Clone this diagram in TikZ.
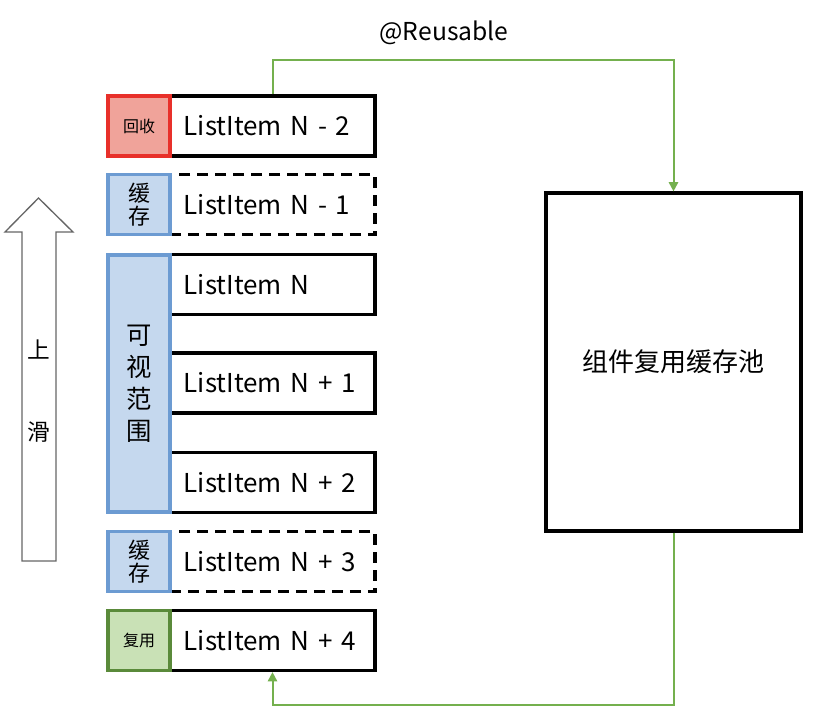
\documentclass[tikz,border=0pt]{standalone}
\usepackage{fontspec}
\setmainfont{Noto Sans CJK SC}
\usetikzlibrary{arrows.meta}
\definecolor{tagred}{HTML}{E8302A}
\definecolor{tagredfill}{HTML}{F0A39A}
\definecolor{tagblue}{HTML}{6C9BD2}
\definecolor{tagbluefill}{HTML}{C5D8EE}
\definecolor{taggreen}{HTML}{5A8A3A}
\definecolor{taggreenfill}{HTML}{C9E1B6}
\definecolor{linkgreen}{HTML}{74B04E}
\begin{document}
\begin{tikzpicture}[x=0.75pt,y=-0.75pt,
  item/.style={draw,line width=2.4pt,minimum width=153.75pt,minimum height=45pt,text width=133pt,inner xsep=10.4pt,align=left,font=\fontsize{19.5}{21}\selectfont},
  cached/.style={item,dash pattern=on 8pt off 5.5pt},
  tag/.style={draw,line width=2.4pt,minimum width=46.5pt,minimum height=45pt,inner sep=0pt,align=center},
  reuse/.style={draw=linkgreen,line width=1.5pt,-{Triangle[width=7pt,length=7pt]}}]
  \useasboundingbox (0,0) rectangle (816,718);
  \node[item] (v1) at (272.5,126) {ListItem N - 2};
  \node[cached] (v2) at (272.5,204.5) {ListItem N - 1};
  \node[item] (v3) at (272.5,284.5) {ListItem N};
  \node[item] (v4) at (272.5,383) {ListItem N + 1};
  \node[item] (v5) at (272.5,482.5) {ListItem N + 2};
  \node[cached] (v6) at (272.5,561.5) {ListItem N + 3};
  \node[item] (v7) at (272.5,640.5) {ListItem N + 4};
  \node[tag,draw=tagred,fill=tagredfill,font=\fontsize{12}{13}\selectfont] (t1) at (139,126) {回收};
  \node[tag,draw=tagblue,fill=tagbluefill,font=\fontsize{16.5}{17}\selectfont] (t2) at (139,204.5) {缓\\存};
  \node[tag,draw=tagblue,fill=tagbluefill,minimum height=192.75pt,font=\fontsize{19}{24}\selectfont] (t3) at (139,383.5) {可\\视\\范\\围};
  \node[tag,draw=tagblue,fill=tagbluefill,font=\fontsize{16.5}{17}\selectfont] (t4) at (139,561.5) {缓\\存};
  \node[tag,draw=taggreen,fill=taggreenfill,font=\fontsize{12}{13}\selectfont] (t5) at (139,640.5) {复用};
  \node[draw,line width=2.4pt,minimum width=191.25pt,minimum height=253.5pt,font=\fontsize{19.5}{21}\selectfont] (p) at (673.5,362) {组件复用缓存池};
  \node[font=\fontsize{18.5}{20}\selectfont] (lbl) at (444,33) {@Reusable};
  \draw[reuse] (v1.north) -- ++(0,-34) -| (p.north);
  \draw[reuse] (p.south) -- ++(0,172) -| (v7.south);
  % hollow arrow for scrolling up
  \draw[gray!80!black,line width=1pt,fill=white] (22,561) -- (22,232) -- (5,232) -- (38.5,198) -- (73,232) -- (56,232) -- (56,561) -- cycle;
  \node[font=\fontsize{17}{18}\selectfont] (s1) at (38.5,350) {上};
  \node[font=\fontsize{17}{18}\selectfont] (s2) at (38.5,432) {滑};
\end{tikzpicture}
\end{document}
